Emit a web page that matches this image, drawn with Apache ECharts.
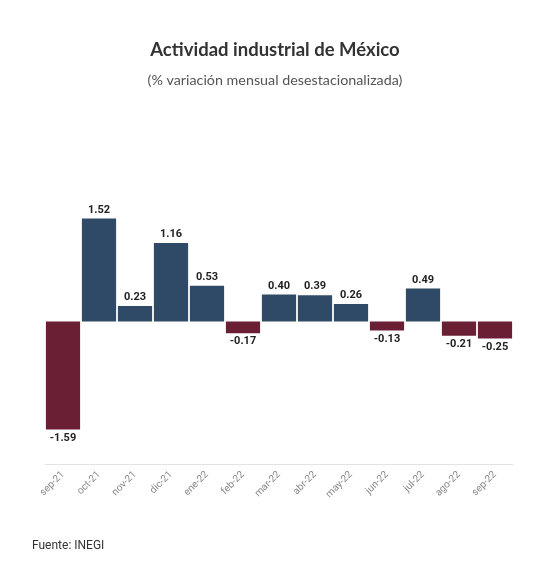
<!DOCTYPE html>
<html><head><meta charset="utf-8">
<script src="https://cdn.jsdelivr.net/npm/echarts@6/dist/echarts.min.js"></script>
<style>html,body{margin:0;padding:0;background:#fff}#c{width:550px;height:583px}</style>
</head><body><div id="c"></div>
<script>
const categories = ['sep-21','oct-21','nov-21','dic-21','ene-22','feb-22','mar-22','abr-22','may-22','jun-22','jul-22','ago-22','sep-22'];
const values = [-1.59, 1.52, 0.23, 1.16, 0.53, -0.17, 0.40, 0.39, 0.26, -0.13, 0.49, -0.21, -0.25];
const titleText = 'Actividad industrial de México';
const subtitleText = '(% variación mensual desestacionalizada)';
const sourceText = 'Fuente: INEGI';

const chart = echarts.init(document.getElementById('c'));
chart.setOption({
  animation: false,
  backgroundColor: '#fff',
  title: [{
    text: titleText, left: 'center', top: 36,
    textStyle: {fontFamily: 'Lato', fontSize: 18.5, fontWeight: 'bold', color: '#333'}
  },{
    text: subtitleText, left: 'center', top: 68,
    textStyle: {fontFamily: 'Lato', fontSize: 14.3, fontWeight: 'normal', color: '#555'}
  },{
    text: sourceText, left: 27, top: 535,
    textStyle: {fontFamily: 'Roboto', fontSize: 12, fontWeight: 'normal', color: '#333'}
  }],
  grid: {left: 45, right: 37, top: 186, bottom: 119, containLabel: false},
  xAxis: {
    type: 'category', data: categories, position: 'bottom',
    axisLine: {onZero: false, lineStyle: {color: '#e3e3e3', width: 1}},
    axisTick: {show: false},
    axisLabel: {rotate: 45, fontFamily: 'Roboto', fontSize: 10, color: '#888', margin: 9, interval: 0}
  },
  yAxis: {
    type: 'value', min: -2.1, max: 2.0,
    show: false, splitLine: {show: false}
  },
  series: [{
    type: 'bar', barCategoryGap: '5%',
    data: values.map(v => ({
      value: v,
      itemStyle: {color: v >= 0 ? '#2e4a66' : '#6b1f34'},
      label: {position: v >= 0 ? 'top' : 'bottom'}
    })),
    label: {
      show: true, fontFamily: 'Roboto', fontSize: 11, fontWeight: 'bold', color: '#222', distance: 3,
      formatter: p => p.value.toFixed(2)
    }
  }]
});
</script></body></html>
